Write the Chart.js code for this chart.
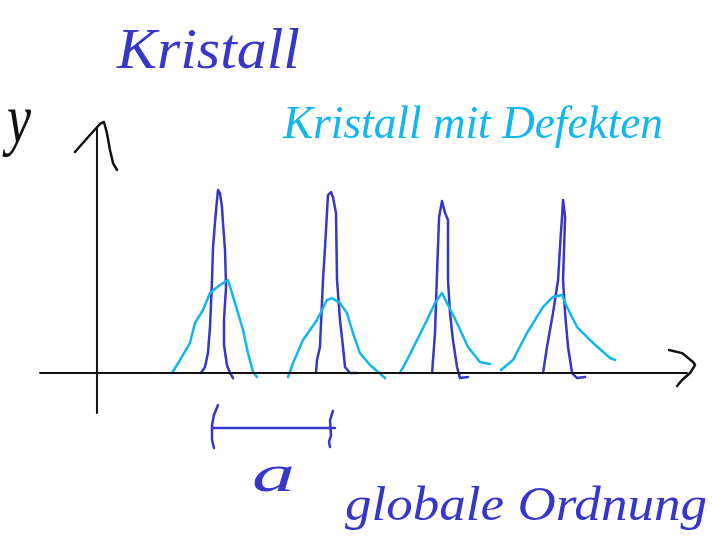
<!DOCTYPE html>
<html>
<head>
<meta charset="utf-8">
<script src="https://cdn.jsdelivr.net/npm/chart.js@4/dist/chart.umd.min.js"></script>
<style>
  html, body { margin: 0; padding: 0; background: #fff; }
  #wrap { width: 712px; height: 550px; }
</style>
</head>
<body>
<div id="wrap"><canvas id="sketch"></canvas></div>
<script>
// x in lattice units (a = 1), y in relative intensity (sharp peak = 1)
const sharpX = [
  [0.920, 0.956, 0.982, 1.000, 1.018, 1.027, 1.044, 1.062, 1.071, 1.088, 1.106, 1.115, 1.133, 1.142, 1.124, 1.124, 1.150, 1.177, 1.204],
  [1.938, 1.947, 1.973, 2.000, 2.018, 2.035, 2.044, 2.071, 2.088, 2.115, 2.124, 2.150, 2.177, 2.195, 2.239, 2.301],
  [2.965, 2.991, 3.009, 3.027, 3.053, 3.080, 3.106, 3.106, 3.124, 3.150, 3.186, 3.212, 3.283],
  [3.947, 3.982, 4.035, 4.080, 4.097, 4.115, 4.124, 4.142, 4.124, 4.142, 4.168, 4.204, 4.248, 4.319]
]
const sharpY = [
  [0, 0.033, 0.110, 0.254, 0.514, 0.696, 0.829, 0.956, 1.011, 0.994, 0.917, 0.829, 0.680, 0.475, 0.293, 0.155, 0.044, 0, -0.028],
  [0, 0.072, 0.144, 0.514, 0.696, 0.884, 0.983, 1.000, 0.972, 0.884, 0.514, 0.293, 0.144, 0.033, 0, 0],
  [0, 0.221, 0.552, 0.862, 0.950, 0.884, 0.845, 0.514, 0.331, 0.182, 0.033, -0.028, -0.022],
  [0, 0.144, 0.331, 0.514, 0.696, 0.862, 0.956, 0.862, 0.514, 0.331, 0.144, 0, -0.028, -0.022]
]

const broadX = [
  [0.664, 0.735, 0.823, 0.867, 0.938, 1.000, 1.088, 1.159, 1.195, 1.248, 1.292, 1.336, 1.381, 1.416],
  [1.690, 1.735, 1.823, 1.947, 2.035, 2.080, 2.150, 2.212, 2.265, 2.327, 2.416, 2.549],
  [2.681, 2.743, 2.832, 2.920, 2.991, 3.053, 3.097, 3.186, 3.283, 3.389, 3.478],
  [3.575, 3.681, 3.805, 3.947, 4.035, 4.115, 4.159, 4.248, 4.389, 4.540, 4.584]
]
const broadY = [
  [0, 0.072, 0.166, 0.276, 0.348, 0.442, 0.486, 0.514, 0.442, 0.331, 0.238, 0.110, 0.006, -0.022],
  [-0.022, 0.055, 0.182, 0.293, 0.403, 0.414, 0.387, 0.331, 0.221, 0.110, 0.044, -0.028],
  [0, 0.072, 0.182, 0.293, 0.387, 0.442, 0.387, 0.276, 0.144, 0.061, 0.050],
  [0.017, 0.072, 0.221, 0.365, 0.420, 0.431, 0.365, 0.254, 0.166, 0.083, 0.072]
]

// axes and the lattice-spacing bracket
const xAxisX = [-0.504, 5.221]
const xAxisY = [0, 0]
const xArrowX = [5.062, 5.177, 5.274, 5.292, 5.248, 5.177, 5.133]
const xArrowY = [0.127, 0.110, 0.061, 0.044, 0, -0.039, -0.072]
const yAxisX = [0, 0]
const yAxisY = [-0.221, 1.354]
const yArrowX = [-0.195, -0.062, 0.027, 0.062, 0.088, 0.115, 0.142, 0.177]
const yArrowY = [1.221, 1.315, 1.376, 1.387, 1.326, 1.232, 1.160, 1.122]
const bracketX = [1.018, 2.106]
const bracketY = [-0.304, -0.304]
const tickLX = [1.071, 1.035, 1.018, 1.018, 1.035]
const tickLY = [-0.177, -0.232, -0.287, -0.370, -0.414]
const tickRX = [2.088, 2.062, 2.071, 2.053, 2.062]
const tickRY = [-0.210, -0.260, -0.343, -0.381, -0.409]

const DARK = '#3636c8'
const CYAN = '#12b6ee'
const INK = '#111111'

const pts = (xs, ys) => xs.map((x, i) => ({ x: x, y: ys[i] }))
const stroke = (xs, ys, color, w) => ({
  data: pts(xs, ys),
  borderColor: color,
  borderWidth: w,
  pointRadius: 0,
  showLine: true,
  fill: false,
  tension: 0,
  borderJoinStyle: 'round',
  borderCapStyle: 'round'
})

const datasets = [
  stroke(xAxisX, xAxisY, INK, 2),
  stroke(xArrowX, xArrowY, INK, 2.5),
  stroke(yAxisX, yAxisY, INK, 2),
  stroke(yArrowX, yArrowY, INK, 2.5)
]
broadX.forEach((xs, i) => datasets.push(stroke(xs, broadY[i], CYAN, 2.5)))
sharpX.forEach((xs, i) => datasets.push(stroke(xs, sharpY[i], DARK, 2.5)))
datasets.push(stroke(bracketX, bracketY, DARK, 2.5))
datasets.push(stroke(tickLX, tickLY, DARK, 2.5))
datasets.push(stroke(tickRX, tickRY, DARK, 2.5))

// handwritten-style labels, stretched to their widths
const labels = [
  { text: 'Kristall', left: 117, base: 68, width: 183, size: 58, color: DARK },
  { text: 'Kristall mit Defekten', left: 283, base: 138, width: 380, size: 46, color: CYAN },
  { text: 'y', left: 7, base: 142, width: 24, size: 70, color: INK },
  { text: 'a', left: 252, base: 491, width: 43, size: 52, color: DARK },
  { text: 'globale Ordnung', left: 345, base: 520, width: 362, size: 48, color: DARK }
]

const notes = {
  id: 'notes',
  afterDraw(chart) {
    const ctx = chart.ctx
    labels.forEach(l => {
      ctx.save()
      ctx.font = 'italic ' + l.size + 'px "Liberation Serif"'
      ctx.fillStyle = l.color
      ctx.textBaseline = 'alphabetic'
      const w = ctx.measureText(l.text).width
      ctx.translate(l.left, l.base)
      ctx.scale(l.width / w, 1)
      ctx.fillText(l.text, 0, 0)
      ctx.restore()
    })
  }
}

new Chart(document.getElementById('sketch'), {
  type: 'scatter',
  data: { datasets: datasets },
  options: {
    responsive: true,
    maintainAspectRatio: false,
    animation: false,
    layout: { padding: 0 },
    plugins: { legend: { display: false }, tooltip: { enabled: false } },
    scales: {
      x: { type: 'linear', display: false, min: -0.858, max: 5.442 },
      y: { type: 'linear', display: false, min: -0.978, max: 2.061 }
    }
  },
  plugins: [notes]
})
</script>
</body>
</html>
